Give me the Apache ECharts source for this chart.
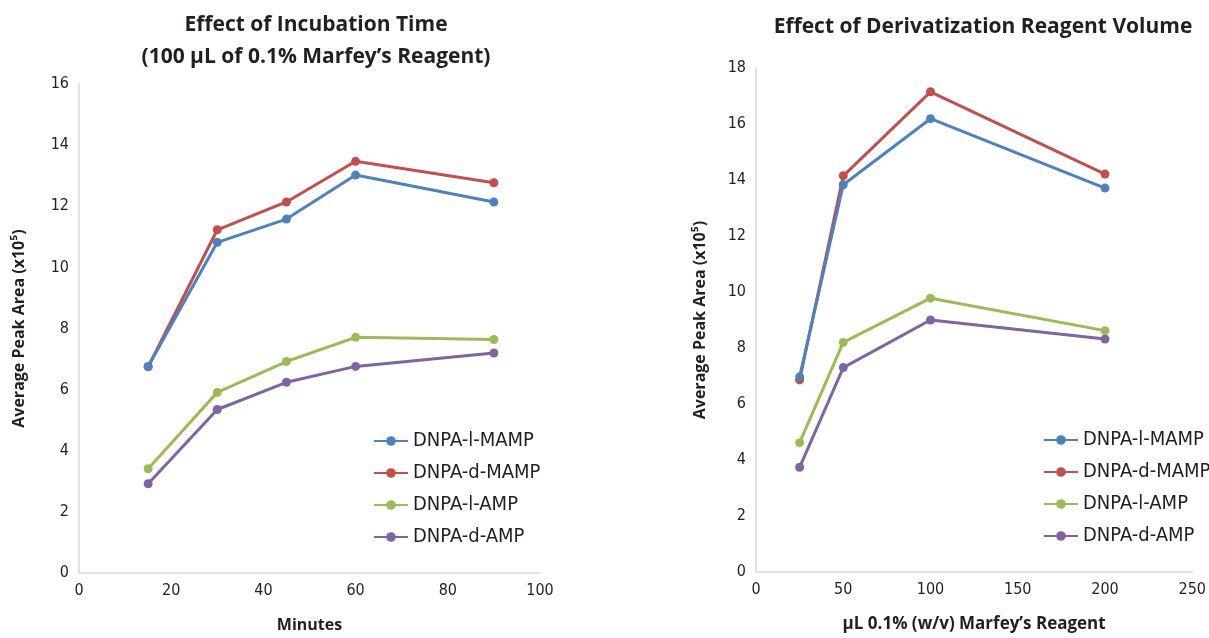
<!DOCTYPE html>
<html>
<head>
<meta charset="utf-8">
<script src="https://cdn.jsdelivr.net/npm/echarts@6/dist/echarts.min.js"></script>
<style>
html,body{margin:0;padding:0;background:#fff;}
#chart{width:1209px;height:638px;}
</style>
</head>
<body>
<div id="chart"></div>
<script>
const seriesNames = ['DNPA-l-MAMP', 'DNPA-d-MAMP', 'DNPA-l-AMP', 'DNPA-d-AMP'];
const colors = ['#4F81BD', '#C0504D', '#9BBB59', '#8064A2'];

// Left chart: incubation time (minutes)
const timeMinutes = [15, 30, 45, 60, 90];
const timeLMAMP = [6.76, 10.82, 11.58, 13.02, 12.14];
const timeDMAMP = [6.75, 11.23, 12.14, 13.47, 12.77];
const timeLAMP  = [3.41, 5.91, 6.92, 7.71, 7.64];
const timeDAMP  = [2.92, 5.35, 6.24, 6.76, 7.20];

// Right chart: reagent volume (µL)
const volumeUL = [25, 50, 100, 200];
const volLMAMP = [6.97, 13.83, 16.19, 13.71];
const volDMAMP = [6.86, 14.15, 17.15, 14.21];
const volLAMP  = [4.62, 8.20, 9.78, 8.62];
const volDAMP  = [3.74, 7.30, 9.00, 8.32];

const leftTicksMax = 16, rightTicksMax = 18;

const chart = echarts.init(document.getElementById('chart'));
const tickFont = '"Liberation Sans Narrow", "DejaVu Sans Condensed", Roboto, sans-serif';
const boldFont = '"Open Sans", Lato, sans-serif';

function pairs(xs, ys){ return xs.map((x,i)=>[x, ys[i]]); }
function mkSeries(idx, xs, ys, gi){
  return {
    name: seriesNames[idx], type: 'line', xAxisIndex: gi, yAxisIndex: gi,
    data: pairs(xs, ys), symbol: 'circle', symbolSize: 9,
    lineStyle: {width: 3, color: colors[idx]},
    itemStyle: {color: colors[idx]}, z: 10 - idx
  };
}
const axisLine = {show: true, lineStyle: {color: '#d9d9d9', width: 1.5}};
const axisLabel = {color: '#231f20', fontSize: 16, fontFamily: tickFont, margin: 10};
const nameStyle = {color: '#231f20', fontSize: 16, fontWeight: 'bold', fontFamily: boldFont};

const legendBase = {
  orient: 'vertical', itemWidth: 34, itemHeight: 12, itemGap: 12,
  textStyle: {fontSize: 20, color: '#231f20', fontFamily: tickFont, lineHeight: 20},
  data: seriesNames, selectedMode: false
};

chart.setOption({
  backgroundColor: '#fff',
  animation: false,
  color: colors,
  title: [
    {text: 'Effect of Incubation Time\n(100 µL of 0.1% Marfey\u2019s Reagent)', left: 311, top: 4, textAlign: 'center',
     textStyle: {fontSize: 21, fontWeight: 'bold', color: '#231f20', fontFamily: boldFont, lineHeight: 32}},
    {text: 'Effect of Derivatization Reagent Volume', left: 978, top: 6, textAlign: 'center',
     textStyle: {fontSize: 21, fontWeight: 'bold', color: '#231f20', fontFamily: boldFont, lineHeight: 32}}
  ],
  legend: [
    Object.assign({left: 368, top: 426}, legendBase),
    Object.assign({left: 1038, top: 425}, legendBase)
  ],
  grid: [
    {left: 79, top: 84, width: 461, bottom: 62},
    {left: 756, top: 68, width: 437, bottom: 62}
  ],
  xAxis: [
    {type: 'value', gridIndex: 0, min: 0, max: 100, interval: 20, axisLine, axisTick: {show: false},
     splitLine: {show: false}, axisLabel, name: 'Minutes', nameLocation: 'middle', nameGap: 44, nameTextStyle: nameStyle},
    {type: 'value', gridIndex: 1, min: 0, max: 250, interval: 50, axisLine, axisTick: {show: false},
     splitLine: {show: false}, axisLabel, name: 'µL 0.1% (w/v) Marfey\u2019s Reagent', nameLocation: 'middle', nameGap: 44,
     nameTextStyle: Object.assign({}, nameStyle, {fontSize: 17})}
  ],
  yAxis: [
    {type: 'value', gridIndex: 0, min: 0, max: leftTicksMax, interval: 2, axisLine, axisTick: {show: false},
     splitLine: {show: false}, axisLabel, name: 'Average Peak Area (x10\u2075)', nameLocation: 'middle', nameGap: 52, nameRotate: 90, nameTextStyle: nameStyle},
    {type: 'value', gridIndex: 1, min: 0, max: rightTicksMax, interval: 2, axisLine, axisTick: {show: false},
     splitLine: {show: false}, axisLabel, name: 'Average Peak Area (x10\u2075)', nameLocation: 'middle', nameGap: 48, nameRotate: 90, nameTextStyle: nameStyle}
  ],
  series: [
    mkSeries(0, timeMinutes, timeLMAMP, 0),
    mkSeries(1, timeMinutes, timeDMAMP, 0),
    mkSeries(2, timeMinutes, timeLAMP, 0),
    mkSeries(3, timeMinutes, timeDAMP, 0),
    mkSeries(0, volumeUL, volLMAMP, 1),
    mkSeries(1, volumeUL, volDMAMP, 1),
    mkSeries(2, volumeUL, volLAMP, 1),
    mkSeries(3, volumeUL, volDAMP, 1)
  ]
});
</script>
</body>
</html>
